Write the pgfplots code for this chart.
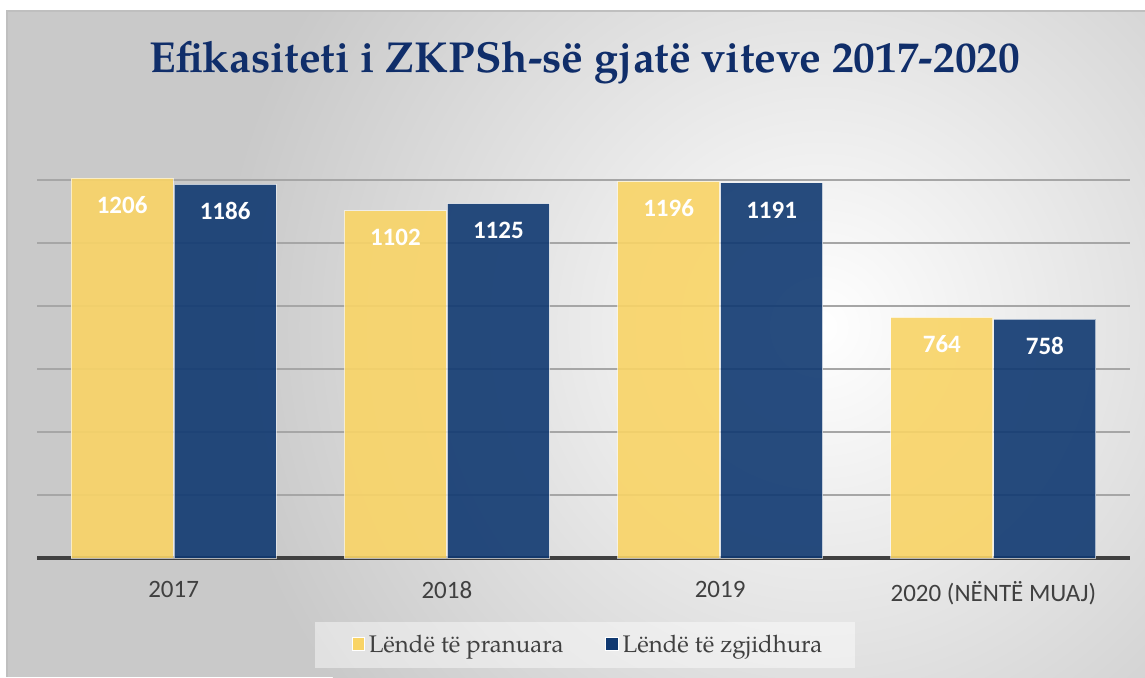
\documentclass[border=0pt]{standalone}
\usepackage{pgfplots}
\pgfplotsset{compat=1.18}
\usepackage{fontspec}
\setmainfont{TeX Gyre Pagella}
\newfontfamily\carlito{Carlito}
\definecolor{ttl}{RGB}{16,46,106}
\definecolor{yel}{RGB}{249,212,102}
\definecolor{blu}{RGB}{16,57,113}
\definecolor{txt}{RGB}{64,64,64}
\begin{document}
\begin{tikzpicture}
\useasboundingbox (0,0) rectangle (572.5pt,338.5pt);
\fill[white] (0,0) rectangle (572.5pt,338.5pt);
\begin{scope}
\clip (3.5pt,0) rectangle (572.5pt,333pt);
\fill[black!21] (3.5pt,0) rectangle (572.5pt,333pt);
\shade[inner color=white, outer color=black!21] (410pt,175pt) circle (300pt);
\end{scope}
\draw[black!25, line width=0.6pt] (3.5pt,0) -- (3.5pt,333pt) -- (572.5pt,333pt);
\fill[white, opacity=0.45] (157.5pt,4.5pt) rectangle (427.5pt,27.5pt);
\node[anchor=base, font=\bfseries\fontsize{21.7}{26}\selectfont, text=ttl] at (292.5pt,302.5pt) {Efikasiteti i ZKPSh-së gjatë viteve 2017-2020};
\begin{axis}[
  at={(18.5pt,59.5pt)}, anchor=south west,
  scale only axis, width=546.5pt, height=192.15pt,
  xmin=-0.5, xmax=3.5, ymin=0, ymax=1220,
  axis line style={draw=none},
  ybar, bar width=51pt,
  xtick={0,1,2,3},
  xticklabels={2017,2018,2019,{2020 (NËNTË MUAJ)}},
  xticklabel style={font=\carlito\fontsize{12.5}{15}\selectfont, text=txt, yshift=-8pt},
  ytick={200,400,...,1200}, yticklabels={},
  extra y ticks={0}, extra y tick labels={},
  extra y tick style={grid style={line width=2pt, color=txt}},
  major tick length=0pt,
  ymajorgrids,
  grid style={line width=0.6pt, color=black!35},
  /pgf/number format/.cd, 1000 sep={}, assume math mode=true,
  /pgfplots/.cd,
  nodes near coords,
  nodes near coords style={font=\carlito\bfseries\fontsize{12.5}{15}\selectfont, text=white, text opacity=1, anchor=center, yshift=-13.5pt},
  legend image code/.code={\draw[#1, fill opacity=1, draw opacity=1] (0pt,-2.6pt) rectangle (6.2pt,3.6pt);},
  legend style={at={(0.505,-0.2264)}, anchor=center, draw=none, fill=none,
    font=\fontsize{12}{14}\selectfont, text=txt, legend columns=2,
    /tikz/every even column/.append style={column sep=19pt}},
]
\addplot[fill=yel, draw=white, draw opacity=0.6, fill opacity=0.9, bar shift=-25.75pt] coordinates {(0,1206) (1,1102) (2,1196) (3,764)};
\addplot[fill=blu, draw=white, draw opacity=0.6, fill opacity=0.9, bar shift=25.75pt] coordinates {(0,1186) (1,1125) (2,1191) (3,758)};
\legend{Lëndë të pranuara, Lëndë të zgjidhura}
\end{axis}
\end{tikzpicture}
\end{document}
